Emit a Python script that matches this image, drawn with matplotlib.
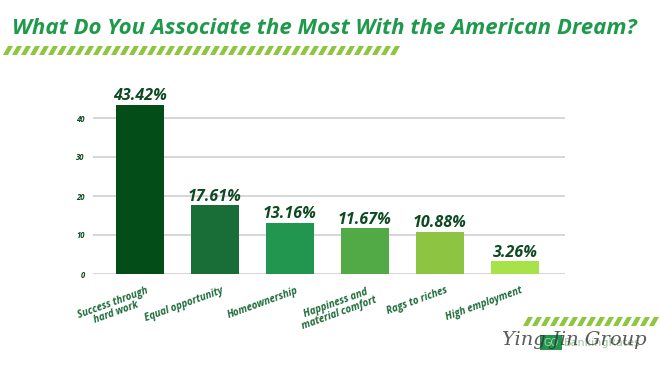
import matplotlib
matplotlib.use("Agg")
import matplotlib.pyplot as plt
import matplotlib.transforms as mtrans
from matplotlib.patches import Polygon, Rectangle

categories = ["Success through\nhard work", "Equal opportunity", "Homeownership",
              "Happiness and\nmaterial comfort", "Rags to riches", "High employment"]
values = [43.42, 17.61, 13.16, 11.67, 10.88, 3.26]
value_labels = ["43.42%", "17.61%", "13.16%", "11.67%", "10.88%", "3.26%"]
yticks = [0, 10, 20, 30, 40]
colors = ["#034d19", "#186e36", "#22964f", "#52aa47", "#8dc441", "#a8e24a"]

FONT = "Open Sans"
DARK = "#0d4a22"

fig = plt.figure(figsize=(6.6, 3.7), dpi=100)
fig.patch.set_facecolor("white")

W, H = 660, 370
ax = fig.add_axes([93 / W, (H - 274) / H, 472 / W, 45 * 3.9 / H])
x = list(range(len(values)))
ax.bar(x, values, width=0.64, color=colors, zorder=3)
ax.set_xlim(-0.627, 5.667)
ax.set_ylim(0, 45)
ax.set_yticks(yticks)
ax.set_yticklabels([str(t) for t in yticks], fontsize=5.5, fontweight="bold",
                   fontstyle="italic", color=DARK, family=FONT)
ax.tick_params(axis="y", length=0, pad=6)
ax.tick_params(axis="x", length=0, pad=8)
ax.grid(axis="y", color="#cfcfcf", lw=1.2, zorder=0)
for s in ax.spines.values():
    s.set_visible(False)
ax.set_xticks(x)
ax.set_xticklabels(categories, rotation=20, ha="right", va="top",
                   rotation_mode="anchor", fontsize=7, fontweight="bold",
                   fontstyle="italic", color="#1d6b3a", family=FONT,
                   multialignment="center", linespacing=0.95)
offset = mtrans.ScaledTranslation(4 / 72, 0, fig.dpi_scale_trans)
for lbl in ax.get_xticklabels():
    lbl.set_transform(lbl.get_transform() + offset)

for xi, v, t in zip(x, values, value_labels):
    ax.text(xi, v + 0.2, t, ha="center", va="bottom", fontsize=11.5,
            fontweight="bold", fontstyle="italic", color=DARK, family=FONT,
            clip_on=False, zorder=4)

# title
fig.text(12 / W, 1 - 28 / H, "What Do You Associate the Most With the American Dream?",
         ha="left", va="center", fontsize=16, fontweight="bold", fontstyle="italic",
         color="#1f9a4c", family=FONT)


def stripes(x0, x1, yt, yb, color="#8dc63f"):
    period = 9.0
    sw = 5.0
    slant = 5.0
    xs = x0
    while xs + sw + slant <= x1 + 0.1:
        pts = [(xs + slant, yt), (xs + slant + sw, yt), (xs + sw, yb), (xs, yb)]
        pts = [(px / W, 1 - py / H) for px, py in pts]
        fig.patches.append(Polygon(pts, closed=True, transform=fig.transFigure,
                                   facecolor=color, edgecolor="none"))
        xs += period


stripes(3, 402, 46, 55)
stripes(523, 662, 317, 326)

# logo
fig.patches.append(Rectangle((540 / W, 1 - 350 / H), 22 / W, 15 / H,
                             transform=fig.transFigure, facecolor="#22964f",
                             edgecolor="none"))
fig.text(551 / W, 1 - 342.5 / H, "GO", ha="center", va="center", fontsize=7,
         color="#9fd9a8", family="DejaVu Sans")
fig.text(564 / W, 1 - 342.5 / H, "BankingRates", ha="left", va="center", fontsize=8,
         color="#9cc79a", family="DejaVu Sans")
fig.text(502 / W, 1 - 340 / H, "Ying Jin Group", ha="left", va="center",
         fontsize=14, fontstyle="italic", color="#333333", family="DejaVu Serif",
         alpha=0.8)

fig.savefig("out.png", dpi=100)
